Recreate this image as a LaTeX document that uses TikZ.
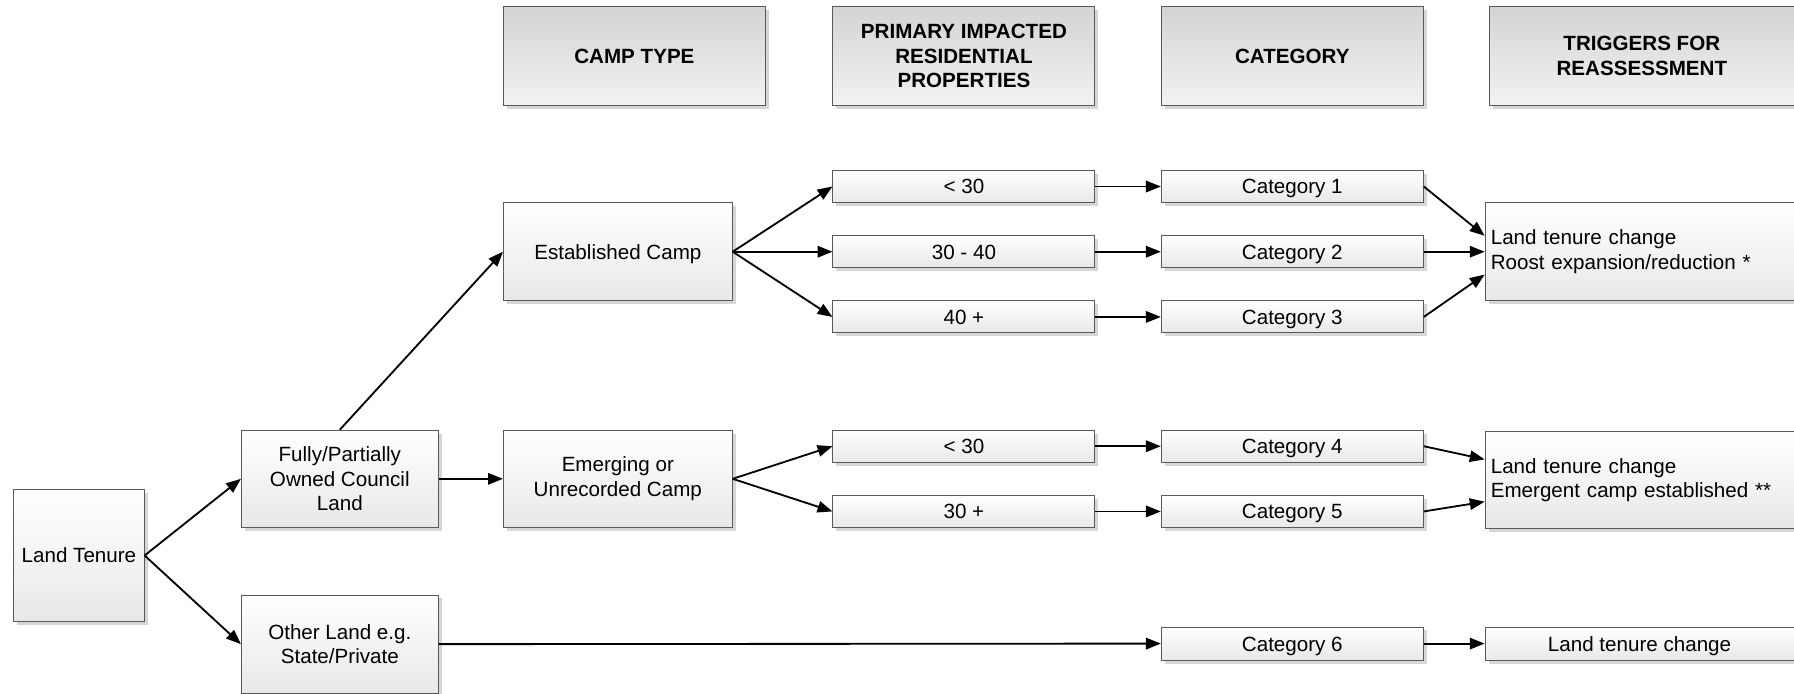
\documentclass[tikz,border=0pt]{standalone}
\usepackage{fontspec}
\setmainfont{Liberation Sans}
\usetikzlibrary{shadows,arrows.meta}
\begin{document}
\begin{tikzpicture}[x=1pt,y=-1pt,
  box/.style={draw=black!65, line width=0.8pt, top color=white, bottom color=black!9,
    drop shadow={shadow xshift=3pt,shadow yshift=-3pt,fill=black!16,opacity=1},
    inner sep=0pt, align=center, font=\fontsize{18}{21.5}\selectfont},
  one/.style={text height=13pt, text depth=0pt},
  hdr/.style={box, top color=black!17, bottom color=black!5, font=\bfseries\fontsize{18}{21.5}\selectfont},
  trig/.style={box, text width=#1, align=left, inner xsep=5pt},
  arr/.style={-{Triangle[length=13pt,width=10pt]}, line width=1.6pt}]
\useasboundingbox (0,0) rectangle (1568,606);
% headers
\node[hdr, one, minimum width=229pt, minimum height=86pt] (hCamp) at (554.5,49) {CAMP TYPE};
\node[hdr, minimum width=229pt, minimum height=86pt] (hPrim) at (842.5,49) {PRIMARY IMPACTED\\RESIDENTIAL\\PROPERTIES};
\node[hdr, one, minimum width=229pt, minimum height=86pt] (hCat) at (1129.5,49) {CATEGORY};
\node[hdr, minimum width=266pt, minimum height=86pt] (hTrig) at (1435,49) {TRIGGERS FOR\\REASSESSMENT};
% left column
\node[box, one, minimum width=114pt, minimum height=115pt] (lt) at (69,485.5) {Land Tenure};
\node[box, minimum width=172pt, minimum height=85pt] (full) at (297,418.5) {Fully/Partially\\Owned Council\\Land};
\node[box, minimum width=172pt, minimum height=86pt] (other) at (297,563) {Other Land e.g.\\State/Private};
% camp type
\node[box, one, minimum width=200pt, minimum height=86pt] (est) at (540,220) {Established Camp};
\node[box, minimum width=200pt, minimum height=85pt] (emg) at (540,418.5) {Emerging or\\Unrecorded Camp};
% properties
\node[box, one, minimum width=229pt, minimum height=28pt] (p1) at (842.5,163) {< 30};
\node[box, one, minimum width=229pt, minimum height=28pt] (p2) at (842.5,220) {30 - 40};
\node[box, one, minimum width=229pt, minimum height=28pt] (p3) at (842.5,277) {40 +};
\node[box, one, minimum width=229pt, minimum height=28pt] (p4) at (842.5,390) {< 30};
\node[box, one, minimum width=229pt, minimum height=28pt] (p5) at (842.5,447) {30 +};
% categories
\node[box, one, minimum width=229pt, minimum height=28pt] (c1) at (1129.5,163) {Category 1};
\node[box, one, minimum width=229pt, minimum height=28pt] (c2) at (1129.5,220) {Category 2};
\node[box, one, minimum width=229pt, minimum height=28pt] (c3) at (1129.5,277) {Category 3};
\node[box, one, minimum width=229pt, minimum height=28pt] (c4) at (1129.5,390) {Category 4};
\node[box, one, minimum width=229pt, minimum height=28pt] (c5) at (1129.5,447) {Category 5};
\node[box, one, minimum width=229pt, minimum height=29pt] (c6) at (1129.5,562.5) {Category 6};
% triggers
\node[trig=260pt, minimum height=86pt] (t1) at (1433,220) {Land tenure change\\Roost expansion/reduction *};
\node[trig=260pt, minimum height=85pt] (t2) at (1433,419.5) {Land tenure change\\Emergent camp established **};
\node[box, one, minimum width=270pt, minimum height=29pt] (t3) at (1433,562.5) {Land tenure change};
% connectors
\draw[arr] (lt.east) -- (full.west);
\draw[arr] (lt.east) -- (other.west);
\draw[arr] (full.north) -- (est.west);
\draw[arr] (full.east) -- (emg.west);
\draw[arr] (est.east) -- (p1.west);
\draw[arr] (est.east) -- (p2.west);
\draw[arr] (est.east) -- (p3.west);
\draw[arr] (emg.east) -- (p4.west);
\draw[arr] (emg.east) -- (p5.west);
\draw[arr] (p1) -- (c1);
\draw[arr] (p2) -- (c2);
\draw[arr] (p3) -- (c3);
\draw[arr] (p4) -- (c4);
\draw[arr] (p5) -- (c5);
\draw[arr] (other.east) -- (c6.west);
\draw[arr] (c1.east) -- ([yshift=14pt]t1.west);
\draw[arr] (c2.east) -- (t1.west);
\draw[arr] (c3.east) -- ([yshift=-20pt]t1.west);
\draw[arr] (c4.east) -- ([yshift=18pt]t2.west);
\draw[arr] (c5.east) -- ([yshift=-19pt]t2.west);
\draw[arr] (c6) -- (t3);
\end{tikzpicture}
\end{document}
